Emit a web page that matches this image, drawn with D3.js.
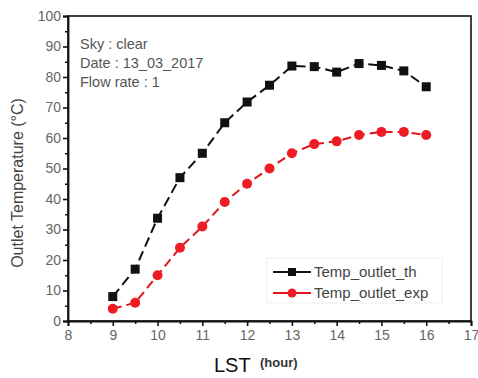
<!DOCTYPE html>
<html><head><meta charset="utf-8">
<script src="https://cdn.jsdelivr.net/npm/d3@7"></script>
<style>body{margin:0;background:#fff}svg{display:block}</style>
</head><body>
<script>
const hours = [9, 9.5, 10, 10.5, 11, 11.5, 12, 12.5, 13, 13.5, 14, 14.5, 15, 15.5, 16];
const tempTh = [8, 17, 33.7, 47, 55, 65, 71.8, 77.3, 83.6, 83.4, 81.6, 84.4, 83.8, 82, 76.8];
const tempExp = [4, 6, 15, 24, 31, 39, 45, 50, 55, 58, 58.9, 61, 62, 62, 61];
const xTicks = [8, 9, 10, 11, 12, 13, 14, 15, 16, 17];
const yTicks = [0, 10, 20, 30, 40, 50, 60, 70, 80, 90, 100];
const seriesNames = ["Temp_outlet_th", "Temp_outlet_exp"];
const annotations = ["Sky : clear", "Date : 13_03_2017", "Flow rate : 1"];

const W = 478, H = 378;
const m = {left: 68, right: 7, top: 16, bottom: 57};
const FONT = "'Liberation Sans', Arial, sans-serif";
const svg = d3.select("body").append("svg").attr("width", W).attr("height", H)
  .style("font-family", FONT);

const x = d3.scaleLinear().domain([8, 17]).range([m.left, W - m.right]);
const y = d3.scaleLinear().domain([0, 100]).range([H - m.bottom, m.top]);

// frame
svg.append("rect").attr("x", m.left).attr("y", m.top)
  .attr("width", x(17) - x(8)).attr("height", y(0) - y(100))
  .attr("fill", "none").attr("stroke", "#111").attr("stroke-width", 1.6);

// minor ticks
const xMinor = d3.range(8.5, 17, 1);
const yMinor = d3.range(5, 100, 10);
svg.append("g").attr("transform", `translate(0,${y(0)})`)
  .call(d3.axisBottom(x).tickValues(xMinor).tickSize(3).tickFormat(""))
  .call(g => g.select(".domain").remove())
  .call(g => g.selectAll("line").attr("stroke", "#111").attr("stroke-width", 1.5));
svg.append("g").attr("transform", `translate(${x(8)},0)`)
  .call(d3.axisLeft(y).tickValues(yMinor).tickSize(3).tickFormat(""))
  .call(g => g.select(".domain").remove())
  .call(g => g.selectAll("line").attr("stroke", "#111").attr("stroke-width", 1.5));

// major axes
const xa = svg.append("g").attr("transform", `translate(0,${y(0)})`)
  .call(d3.axisBottom(x).tickValues(xTicks).tickSize(5).tickPadding(4).tickFormat(d3.format("d")));
const ya = svg.append("g").attr("transform", `translate(${x(8)},0)`)
  .call(d3.axisLeft(y).tickValues(yTicks).tickSize(5).tickPadding(2).tickFormat(d3.format("d")));
[xa, ya].forEach(g => {
  g.select(".domain").attr("stroke", "#111").attr("stroke-width", 1.8);
  g.selectAll("line").attr("stroke", "#111").attr("stroke-width", 1.6);
  g.selectAll("text").attr("fill", "#666").attr("font-size", 14).attr("font-family", FONT);
});

// lines
const line = d3.line().x((d, i) => x(hours[i])).y(d => y(d));
svg.append("path").datum(tempTh).attr("d", line).attr("fill", "none")
  .attr("stroke", "#111").attr("stroke-width", 2).attr("stroke-dasharray", "10,5");
svg.append("path").datum(tempExp).attr("d", line).attr("fill", "none")
  .attr("stroke", "#e0141c").attr("stroke-width", 2).attr("stroke-dasharray", "9,5");

svg.append("g").selectAll("rect").data(tempTh).join("rect")
  .attr("x", (d, i) => x(hours[i]) - 4.5).attr("y", d => y(d) - 4.5)
  .attr("width", 9).attr("height", 9).attr("fill", "#111");
svg.append("g").selectAll("circle").data(tempExp).join("circle")
  .attr("cx", (d, i) => x(hours[i])).attr("cy", d => y(d)).attr("r", 5).attr("fill", "#ee1c24");

// annotations
svg.append("g").selectAll("text").data(annotations).join("text")
  .attr("x", 80).attr("y", (d, i) => 49 + i * 19).attr("font-size", 14.5).attr("fill", "#555")
  .text(d => d);

// legend
const lg = svg.append("g");
lg.append("rect").attr("x", 267).attr("y", 258).attr("width", 175).attr("height", 45)
  .attr("fill", "none").attr("stroke", "#eee").attr("stroke-width", 1);
const legendY = [272, 293];
const colors = ["#111", "#e0141c"];
seriesNames.forEach((n, i) => {
  lg.append("line").attr("x1", 273).attr("x2", 311).attr("y1", legendY[i]).attr("y2", legendY[i])
    .attr("stroke", colors[i]).attr("stroke-width", 2);
  if (i === 0) lg.append("rect").attr("x", 288).attr("y", legendY[i] - 4).attr("width", 8).attr("height", 8).attr("fill", "#111");
  else lg.append("circle").attr("cx", 292).attr("cy", legendY[i]).attr("r", 4.5).attr("fill", "#ee1c24");
  lg.append("text").attr("x", 314).attr("y", legendY[i] + 5).attr("font-size", 15).attr("fill", "#444").text(n);
});

// axis titles
svg.append("text").attr("transform", `translate(23,183) rotate(-90)`).attr("text-anchor", "middle")
  .attr("font-size", 16).attr("fill", "#444").text("Outlet Temperature (°C)");
svg.append("text").attr("x", 214).attr("y", 372).attr("font-size", 20).attr("fill", "#111").text("LST");
svg.append("text").attr("x", 260).attr("y", 367).attr("font-size", 13).attr("font-weight", "bold").attr("fill", "#333").text("(hour)");
</script>
</body></html>
